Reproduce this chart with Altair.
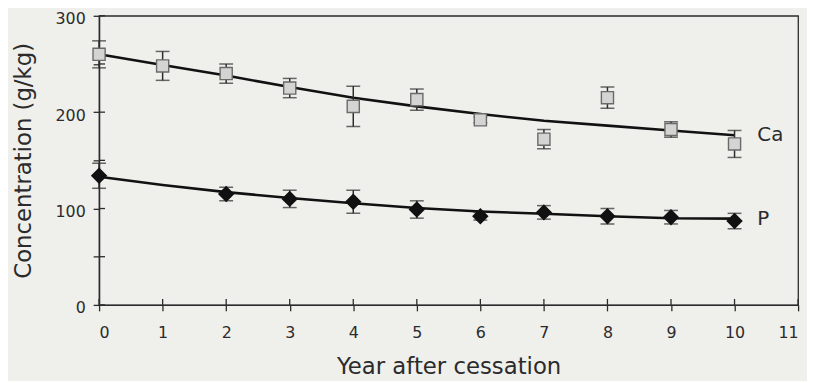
import altair as alt
import pandas as pd

years = [0, 1, 2, 3, 4, 5, 6, 7, 8, 9, 10]

ca_mean = [260, 248, 240, 225, 206, 213, 192, 172, 215, 182, 167]
ca_err = [14, 15, 10, 10, 21, 11, 3, 10, 11, 8, 14]
ca_fit = [260, 249, 238, 226, 215, 206, 198, 191, 186, 181, 176]

p_years = [0, 2, 3, 4, 5, 6, 7, 8, 9, 10]
p_mean = [134, 115, 110, 107, 99, 92, 96, 92, 91, 87]
p_err = [13, 7, 9, 12, 9, 4, 7, 8, 7, 8]
p_fit = [133, 124.5, 117, 111, 105.5, 100.5, 97, 94.5, 92, 90, 89.5]

x_ticks = list(range(0, 12))
y_ticks = [0, 50, 100, 150, 200, 250, 300]

FONT = "DejaVu Sans"
BG = "#efefec"
INK = "#2b2b2b"

W, H = 706, 292

ca = pd.DataFrame({"year": years, "mean": ca_mean, "err": ca_err})
ca["lo"] = ca["mean"] - ca["err"]
ca["hi"] = ca["mean"] + ca["err"]
p = pd.DataFrame({"year": p_years, "mean": p_mean, "err": p_err})
p["lo"] = p["mean"] - p["err"]
p["hi"] = p["mean"] + p["err"]

fit = pd.DataFrame({
    "year": years * 2,
    "fit": ca_fit + p_fit,
    "series": ["Ca"] * len(years) + ["P"] * len(years),
})
labels = pd.DataFrame({
    "year": [years[-1], years[-1]],
    "fit": [ca_fit[-1], p_fit[-1]],
    "series": ["Ca", "P"],
})

xs = alt.Scale(domain=[0, 11], nice=False)
ys = alt.Scale(domain=[0, 300], nice=False)

X = alt.X("year:Q", scale=xs, title="Year after cessation",
          axis=alt.Axis(values=x_ticks, format="d", tickSize=6, labelPadding=14,
                        titlePadding=15, grid=False))
Y_axis = alt.Axis(values=y_ticks, tickSize=6, labelPadding=8, titlePadding=20, grid=False,
                  labelOffset=3,
                  labelExpr="datum.value % 100 == 0 ? datum.label : ''")


def errbars(df):
    base = alt.Chart(df)
    stem = base.mark_rule(color=INK, strokeWidth=1.5).encode(
        x=alt.X("year:Q", scale=xs), y=alt.Y("lo:Q", scale=ys), y2="hi:Q")
    top = base.mark_tick(color=INK, orient="horizontal", size=14, thickness=1.5).encode(
        x=alt.X("year:Q", scale=xs), y=alt.Y("hi:Q", scale=ys))
    bot = base.mark_tick(color=INK, orient="horizontal", size=14, thickness=1.5).encode(
        x=alt.X("year:Q", scale=xs), y=alt.Y("lo:Q", scale=ys))
    return stem + top + bot


lines = alt.Chart(fit).mark_line(color="#111111", strokeWidth=2.6).encode(
    x=X,
    y=alt.Y("fit:Q", scale=ys, title="Concentration  (g/kg)", axis=Y_axis),
    detail="series:N",
)

ca_pts = alt.Chart(ca).mark_point(shape="square", filled=True, size=150, fill="#d4d4d2",
                                   stroke="#6a6a6a", strokeWidth=1.4, opacity=1).encode(
    x=alt.X("year:Q", scale=xs), y=alt.Y("mean:Q", scale=ys))
p_pts = alt.Chart(p).mark_point(shape="diamond", filled=True, size=190, fill="#111111",
                                 stroke="#111111", opacity=1).encode(
    x=alt.X("year:Q", scale=xs), y=alt.Y("mean:Q", scale=ys))

text = alt.Chart(labels).mark_text(align="left", baseline="middle", dx=23, fontSize=20,
                                    font=FONT, color=INK).encode(
    x=alt.X("year:Q", scale=xs), y=alt.Y("fit:Q", scale=ys), text="series:N")

yin = alt.Chart(pd.DataFrame({"v": y_ticks})).mark_rule(color=INK, strokeWidth=1.3).encode(
    y=alt.Y("v:Q", scale=ys), x=alt.value(0), x2=alt.value(6))
xin = alt.Chart(pd.DataFrame({"v": x_ticks})).mark_rule(color=INK, strokeWidth=1.3).encode(
    x=alt.X("v:Q", scale=xs), y=alt.value(H - 6), y2=alt.value(H))

chart = alt.layer(
    lines, yin, xin, errbars(ca), errbars(p), ca_pts, p_pts, text
).properties(
    width=W, height=H,
    autosize=alt.AutoSizeParams(type="none"),
    padding={"left": 92, "top": 6, "right": 9, "bottom": 75},
    background=BG,
).configure_view(
    stroke=INK, strokeWidth=1.3, fill=BG
).configure_axis(
    domainColor=INK, domainWidth=1.4, tickColor=INK, tickWidth=1.3,
    labelFont=FONT, labelFontSize=16, labelColor=INK,
    titleFont=FONT, titleFontSize=23, titleColor=INK, titleFontWeight="normal",
)

chart.save("out.html", embed_options={"renderer": "svg", "actions": False})
